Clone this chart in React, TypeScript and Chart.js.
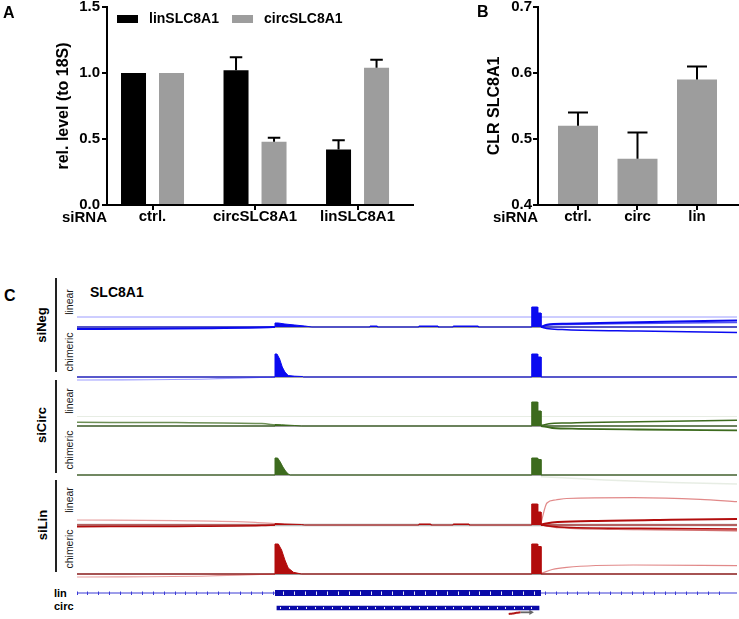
import React, { useEffect, useRef } from 'react';
import { Chart, registerables } from 'chart.js';

Chart.register(...registerables);

const FONT = "'Liberation Sans', Arial, Helvetica, sans-serif";
Chart.defaults.font.family = FONT;
Chart.defaults.color = '#000';

type P = [number, number];

// ---------------- Panel A: qPCR levels ----------------
const siRnaGroupsA = ['ctrl.', 'circSLC8A1', 'linSLC8A1'];
const seriesNamesA = ['linSLC8A1', 'circSLC8A1'];
const linLevelA = [1.0, 1.02, 0.42];
const linSdA = [0, 0.1, 0.07];
const circLevelA = [1.0, 0.48, 1.04];
const circSdA = [0, 0.03, 0.06];
const yTicksA = [0, 0.5, 1.0, 1.5];

// ---------------- Panel B: CLR ----------------
const siRnaGroupsB = ['ctrl.', 'circ', 'lin'];
const clrB = [0.52, 0.47, 0.59];
const clrSdB = [0.02, 0.04, 0.02];
const yTicksB = [0.4, 0.5, 0.6, 0.7];

// ---------------- Panel C: coverage tracks (genomic window 0..1000, coverage in reads) ----------------
const trackSpan: P[] = [[0, 0], [1000, 0]];

const negLinearCoverage: P[] = [[0, 0], [300, 0], [300, 4], [305, 4], [315, 3], [330, 2], [345, 1], [356, 0], [444, 0], [444, 1], [455, 1], [455, 0], [518, 0], [518, 1], [547, 1], [547, 0], [570, 0], [570, 1], [608, 1], [608, 0], [689, 0], [689, 20], [698, 20], [698, 14], [703, 14], [703, 0], [1000, 0]];
const negChimericCoverage: P[] = [[0, 0], [300, 0], [300, 23], [303, 23], [307, 18], [311, 10], [315, 5], [320, 1.5], [330, 0.8], [342, 0.5], [343, 0], [689, 0], [689, 23], [698, 23], [698, 20], [703, 20], [703, 0], [1000, 0]];
const circLinearCoverage: P[] = [[0, 0], [300, 0], [300, 1.5], [310, 1.2], [330, 0.5], [340, 0], [689, 0], [689, 24], [698, 24], [698, 15], [703, 15], [703, 0], [1000, 0]];
const circChimericCoverage: P[] = [[0, 0], [300, 0], [300, 17], [304, 17], [308, 13], [312, 8], [316, 4], [320, 1], [323, 0], [689, 0], [689, 17], [698, 17], [698, 15.5], [703, 15.5], [703, 0], [1000, 0]];
const linLinearCoverage: P[] = [[0, 0], [300, 0], [300, 1.5], [315, 1], [340, 0.5], [345, 0], [518, 0], [518, 1], [536, 1], [536, 0], [570, 0], [570, 1], [594, 1], [594, 0], [689, 0], [689, 21], [698, 21], [698, 13], [703, 13], [703, 0], [1000, 0]];
const linChimericCoverage: P[] = [[0, 0], [300, 0], [300, 30], [305, 30], [310, 24], [315, 14], [320, 6], [328, 1.7], [340, 0], [689, 0], [689, 30], [698, 30], [698, 27.5], [703, 27.5], [703, 0], [1000, 0]];

const negLinearJunctions: P[][] = [
  [[0, 10], [1000, 10]],
  [[0, -2], [100, -1.8], [200, -1.2], [290, -0.3], [300, 0]],
  [[703, 0], [712, 2.3], [742, 3.2], [850, 4.8], [1000, 6.6]],
  [[703, 0], [712, 1.8], [742, 2.6], [850, 3.6], [1000, 4.6]],
  [[703, 0], [715, -1.8], [742, -2.7], [850, -4], [1000, -5.4]],
];
const negChimericJunctions: P[][] = [
  [[0, -3], [200, -2], [300, 0]],
];
const circLinearJunctions: P[][] = [
  [[0, 9.5], [1000, 9.5]],
  [[0, 3.7], [150, 3.4], [280, 2.5], [300, 1]],
  [[703, 0.5], [715, 2.2], [742, 3], [850, 4.3], [1000, 5.7]],
  [[703, 0], [720, -2], [760, -2.8], [850, -3.5], [1000, -4.3]],
];
const circChimericJunctions: P[][] = [
  [[703, -1.7], [800, -5], [900, -7.5], [1000, -9]],
];
const linLinearJunctions: P[][] = [
  [[0, 5], [150, 4.3], [270, 2.7], [300, 1.3]],
  [[0, -1.7], [150, -1.4], [280, -0.6], [300, 0]],
  [[703, 2], [712, 22], [725, 25], [742, 26.5], [843, 27.3], [944, 25.7], [1000, 23.3]],
  [[703, 0.5], [720, 2.5], [780, 4], [900, 5.3], [1000, 6]],
  [[703, 0], [730, -2], [850, -3.3], [1000, -4]],
  [[703, 0], [730, -2.5], [850, -4.5], [1000, -5.7]],
];
const linChimericJunctions: P[][] = [
  [[703, 0.5], [720, 4.5], [742, 6.7], [843, 9], [1000, 8.3]],
  [[0, -3], [200, -2], [300, 0]],
];

// gene model
const geneSpan: P[] = [[0, 0], [1000, 0]];
const linExons: P[] = [[300, 0], [703, 0]];
const circExons: P[] = [[300, 0], [703, 0]];
const primerRed: P[] = [[656, -9], [662, -8.2], [668, -7.2], [674, -6.5]];
const primerGray: P[] = [[674, -6.5], [690, -6.5]];

// ---------------- plugins ----------------
const errorBarPlugin: any = {
  id: 'errorBars',
  afterDatasetsDraw(chart: any, _a: any, opts: any) {
    const sds: number[][] = opts.sd || [];
    const ctx = chart.ctx;
    const yScale = chart.scales.y;
    ctx.save();
    ctx.strokeStyle = '#000';
    ctx.lineWidth = 2;
    chart.data.datasets.forEach((ds: any, di: number) => {
      const e = sds[di];
      if (!e) return;
      const meta = chart.getDatasetMeta(di);
      meta.data.forEach((bar: any, i: number) => {
        if (!e[i]) return;
        const v = ds.data[i].y;
        const yTop = yScale.getPixelForValue(v + e[i]);
        const half = bar.width / 4;
        ctx.beginPath();
        ctx.moveTo(bar.x, bar.y);
        ctx.lineTo(bar.x, yTop);
        ctx.moveTo(bar.x - half, yTop);
        ctx.lineTo(bar.x + half, yTop);
        ctx.stroke();
      });
    });
    ctx.restore();
  },
};

const innerLegendPlugin: any = {
  id: 'innerLegend',
  afterDraw(chart: any, _a: any, opts: any) {
    if (!opts.display) return;
    const { ctx, chartArea } = chart;
    ctx.save();
    ctx.font = `bold 14px ${FONT}`;
    ctx.textBaseline = 'middle';
    let x = chartArea.left + opts.dx;
    const y = chartArea.top + opts.dy;
    chart.data.datasets.forEach((ds: any) => {
      ctx.fillStyle = ds.backgroundColor;
      ctx.fillRect(x, y - 4, 21, 8);
      x += 21 + 11;
      ctx.fillStyle = '#000';
      ctx.fillText(ds.label, x, y + 0.5);
      x += ctx.measureText(ds.label).width + 13;
    });
    ctx.restore();
  },
};

const rowTitlePlugin: any = {
  id: 'rowTitle',
  afterDraw(chart: any, _a: any, opts: any) {
    const { ctx, chartArea } = chart;
    ctx.save();
    ctx.font = `bold 15px ${FONT}`;
    ctx.fillStyle = '#000';
    ctx.textAlign = 'right';
    ctx.textBaseline = 'alphabetic';
    ctx.fillText(opts.text, chartArea.left, chartArea.bottom + opts.dy);
    ctx.restore();
  },
};

// ---------------- config builders ----------------
function barConfig(o: any): any {
  const { groups, series, yTicks, yTitle, xMin, xMax, catPct, barPct, axisWidth, titleCenter, tickPad, padRight, legend } = o;
  return {
    type: 'bar',
    data: {
      datasets: series.map((s: any) => ({
        label: s.label,
        data: s.values.map((v: number, i: number) => ({ x: i, y: v })),
        backgroundColor: s.color,
        borderWidth: 0,
        categoryPercentage: catPct,
        barPercentage: barPct,
        base: yTicks[0],
      })),
    },
    options: {
      animation: false,
      responsive: false,
      events: [],
      layout: { padding: { top: 7, right: padRight, left: 0, bottom: 0 } },
      plugins: {
        legend: { display: false },
        tooltip: { enabled: false },
        errorBars: { sd: series.map((s: any) => s.sd) },
        innerLegend: { display: legend, dx: 10, dy: 12 },
        rowTitle: { text: 'siRNA', dy: 17 },
      },
      scales: {
        x: {
          type: 'linear', min: xMin, max: xMax, offset: false,
          afterBuildTicks: (s: any) => { s.ticks = groups.map((_: string, i: number) => ({ value: i })); },
          afterFit: (s: any) => { s.height = 35; s.paddingLeft = 0; s.paddingRight = 0; },
          ticks: { autoSkip: false, maxRotation: 0, padding: -2, font: { size: 15, weight: 'bold' }, color: '#000', callback: (v: any) => groups[v] ?? '' },
          grid: { offset: false, drawOnChartArea: false, drawTicks: true, tickLength: 5, color: '#000', lineWidth: 2 },
          border: { display: true, color: '#000', width: 2 },
        },
        y: {
          type: 'linear', min: yTicks[0], max: yTicks[yTicks.length - 1],
          afterBuildTicks: (s: any) => { s.ticks = yTicks.map((v: number) => ({ value: v })); },
          afterFit: (s: any) => { s.width = axisWidth; s.paddingTop = 0; s.paddingBottom = 0; },
          ticks: { autoSkip: false, padding: tickPad, font: { size: 15, weight: 'bold' }, color: '#000', callback: (v: any) => Number(v).toFixed(1) },
          grid: { drawOnChartArea: false, drawTicks: true, tickLength: 5, color: '#000', lineWidth: 2 },
          border: { display: true, color: '#000', width: 2 },
          title: { display: true, text: yTitle, color: '#000', font: { size: 16, weight: 'bold' }, padding: { top: titleCenter - 9.6, bottom: 0 } },
        },
      },
    },
    plugins: [errorBarPlugin, innerLegendPlugin, rowTitlePlugin],
  };
}

const xy = (pts: P[]) => pts.map(([x, y]) => ({ x, y }));

function trackConfig(t: any): any {
  const datasets: any[] = [
    { data: xy(t.coverage), borderColor: t.color, backgroundColor: t.color, borderWidth: 1, fill: 'origin', pointRadius: 0, tension: 0 },
    ...t.junctions.map((pts: P[], i: number) => ({
      data: xy(pts), borderColor: t.junctionStyles[i].color, borderWidth: t.junctionStyles[i].width,
      fill: false, pointRadius: 0, cubicInterpolationMode: 'monotone',
    })),
    { data: xy(trackSpan), borderColor: t.baseColor, borderWidth: t.baseWidth, fill: false, pointRadius: 0 },
  ];
  return {
    type: 'line',
    data: { datasets },
    options: {
      animation: false, responsive: false, events: [],
      layout: { padding: 0 },
      plugins: { legend: { display: false }, tooltip: { enabled: false } },
      scales: {
        x: { type: 'linear', display: false, min: 0, max: 1000 },
        y: { type: 'linear', display: false, min: -10, max: 36 },
      },
    },
  };
}

function geneConfig(kind: 'lin' | 'circ'): any {
  const exons = kind === 'lin' ? linExons : circExons;
  const lo = exons[0][0];
  const hi = exons[exons.length - 1][0];
  const inBlock = (v: number) => v > lo && v < hi;
  const datasets: any[] = kind === 'lin'
    ? [
      { data: xy(linExons), borderColor: '#0a0aa8', borderWidth: 6, pointRadius: 0, clip: false },
      { data: xy(geneSpan), borderColor: '#3c3cd6', borderWidth: 1.2, pointRadius: 0, clip: false },
    ]
    : [
      { data: xy(circExons), borderColor: '#0a0aa8', borderWidth: 4.5, pointRadius: 0, clip: false },
      { data: xy(primerRed), borderColor: '#b01515', borderWidth: 2, pointRadius: 0, clip: false, cubicInterpolationMode: 'monotone' },
      {
        data: xy(primerGray), borderColor: '#666', borderWidth: 1.8, clip: false,
        pointStyle: 'triangle', rotation: 90, backgroundColor: '#666', pointBackgroundColor: '#666', pointBorderWidth: 0,
        pointRadius: (c: any) => (c.dataIndex === primerGray.length - 1 ? 3 : 0),
      },
    ];
  return {
    type: 'line',
    data: { datasets },
    options: {
      animation: false, responsive: false, events: [],
      layout: kind === 'lin' ? { padding: { top: 4.5, bottom: 4.5, left: 0, right: 0 } } : { padding: { top: 3, bottom: 10, left: 0, right: 0 } },
      plugins: { legend: { display: false }, tooltip: { enabled: false } },
      scales: {
        x: {
          type: 'linear', min: 0, max: 1000, display: true,
          afterFit: (s: any) => { s.height = 0; },
          ticks: { display: false, stepSize: kind === 'lin' ? 16.5 : 13.3 },
          grid: {
            drawOnChartArea: true, drawTicks: false, z: 1, lineWidth: 1,
            color: (c: any) => (inBlock(c.tick.value) ? 'rgba(255,255,255,0.9)' : kind === 'lin' ? '#3c3cd6' : 'rgba(0,0,0,0)'),
          },
          border: { display: false },
        },
        y: { type: 'linear', display: false, min: -1.5, max: 1.5 },
      },
    },
  };
}

// ---------------- components ----------------
function ChartBox({ left, top, width, height, build }: any) {
  const ref = useRef<HTMLCanvasElement>(null);
  useEffect(() => {
    const chart = new Chart(ref.current as HTMLCanvasElement, build());
    return () => chart.destroy();
  }, []);
  return <canvas ref={ref} width={width} height={height} style={{ position: 'absolute', left, top, width, height }} />;
}

function Txt({ x, y, size, weight = 'bold', color = '#000', children }: any) {
  return (
    <div style={{ position: 'absolute', left: x, top: y, font: `${weight} ${size}px/${size}px ${FONT}`, color, whiteSpace: 'nowrap' }}>
      {children}
    </div>
  );
}

function RotText({ cx, cy, size, weight = 'bold', color = '#000', children }: any) {
  return (
    <div style={{
      position: 'absolute', left: cx, top: cy, transform: 'translate(-50%,-50%) rotate(-90deg)',
      font: `${weight} ${size}px/${size}px ${FONT}`, color, whiteSpace: 'nowrap',
    }}>
      {children}
    </div>
  );
}

const BLUE = '#0a0af0';
const GREEN = '#3d6b1e';
const RED = '#b20d0d';

const tracks = [
  {
    baseline: 327, coverage: negLinearCoverage, color: BLUE, junctions: negLinearJunctions,
    junctionStyles: [
      { color: 'rgba(90,90,255,0.6)', width: 1 }, { color: BLUE, width: 2 }, { color: BLUE, width: 2 },
      { color: 'rgba(10,10,240,0.7)', width: 1.5 }, { color: BLUE, width: 1.5 },
    ],
    baseColor: '#7a7a7a', baseWidth: 1.5,
  },
  {
    baseline: 377, coverage: negChimericCoverage, color: BLUE, junctions: negChimericJunctions,
    junctionStyles: [{ color: 'rgba(60,60,255,0.5)', width: 1.2 }],
    baseColor: '#8a8a8a', baseWidth: 1.5,
  },
  {
    baseline: 426, coverage: circLinearCoverage, color: GREEN, junctions: circLinearJunctions,
    junctionStyles: [
      { color: 'rgba(61,107,30,0.12)', width: 1 }, { color: 'rgba(61,107,30,0.75)', width: 1.5 },
      { color: GREEN, width: 1.5 }, { color: GREEN, width: 1.8 },
    ],
    baseColor: '#7a7a7a', baseWidth: 1.5,
  },
  {
    baseline: 475, coverage: circChimericCoverage, color: GREEN, junctions: circChimericJunctions,
    junctionStyles: [{ color: 'rgba(61,107,30,0.12)', width: 1.5 }],
    baseColor: '#8a8a8a', baseWidth: 1.5,
  },
  {
    baseline: 525, coverage: linLinearCoverage, color: RED, junctions: linLinearJunctions,
    junctionStyles: [
      { color: 'rgba(200,40,40,0.45)', width: 1.2 }, { color: RED, width: 1.5 },
      { color: 'rgba(200,40,40,0.55)', width: 1.2 }, { color: RED, width: 2 },
      { color: RED, width: 1.5 }, { color: 'rgba(178,13,13,0.6)', width: 1.5 },
    ],
    baseColor: '#b5b5b5', baseWidth: 2.5,
  },
  {
    baseline: 574, coverage: linChimericCoverage, color: RED, junctions: linChimericJunctions,
    junctionStyles: [{ color: 'rgba(200,40,40,0.55)', width: 1.2 }, { color: 'rgba(200,40,40,0.45)', width: 1.2 }],
    baseColor: '#7a7a7a', baseWidth: 1.5,
  },
];

const groupLabels = [
  { text: 'siNeg', cx: 41, cy: 325, top: 278, height: 94 },
  { text: 'siCirc', cx: 41, cy: 425, top: 380, height: 93 },
  { text: 'siLin', cx: 42, cy: 525, top: 480, height: 92 },
];

export default function App() {
  return (
    <div style={{ position: 'absolute', left: 0, top: 0, width: 739, height: 619, background: '#fff', overflow: 'hidden' }}>
      <ChartBox
        left={0} top={0} width={420} height={240}
        build={() => barConfig({
          groups: siRnaGroupsA,
          series: [
            { label: seriesNamesA[0], values: linLevelA, sd: linSdA, color: '#000' },
            { label: seriesNamesA[1], values: circLevelA, sd: circSdA, color: '#9d9d9d' },
          ],
          yTicks: yTicksA, yTitle: 'rel. level (to 18S)',
          xMin: -0.444, xMax: 2.541, catPct: 0.7415, barPct: 0.658,
          axisWidth: 107, titleCenter: 64, tickPad: 2, padRight: 7, legend: true,
        })}
      />
      <ChartBox
        left={430} top={0} width={309} height={240}
        build={() => barConfig({
          groups: siRnaGroupsB,
          series: [{ label: 'CLR SLC8A1', values: clrB, sd: clrSdB, color: '#9d9d9d' }],
          yTicks: yTicksB, yTitle: 'CLR SLC8A1',
          xMin: -0.672, xMax: 2.689, catPct: 1, barPct: 0.672,
          axisWidth: 108, titleCenter: 65, tickPad: 1, padRight: 1, legend: false,
        })}
      />
      <Txt x={3} y={4.5} size={16}>A</Txt>
      <Txt x={477} y={3.8} size={16}>B</Txt>
      <Txt x={4} y={287.5} size={16}>C</Txt>
      <Txt x={90} y={285} size={14}>SLC8A1</Txt>

      {groupLabels.map((g) => (
        <React.Fragment key={g.text}>
          <RotText cx={g.cx} cy={g.cy} size={13}>{g.text}</RotText>
          <div style={{ position: 'absolute', left: 55, top: g.top, width: 2, height: g.height, background: '#222' }} />
        </React.Fragment>
      ))}

      {tracks.map((t, i) => (
        <React.Fragment key={i}>
          <ChartBox left={77} top={t.baseline - 36} width={660} height={46} build={() => trackConfig(t)} />
          <RotText cx={69} cy={t.baseline - 25} size={10.5} weight="normal" color="#1a1a1a">
            {i % 2 === 0 ? 'linear' : 'chimeric'}
          </RotText>
        </React.Fragment>
      ))}

      <ChartBox left={77} top={587} width={660} height={12} build={() => geneConfig('lin')} />
      <ChartBox left={77} top={603} width={660} height={16} build={() => geneConfig('circ')} />
      <Txt x={54} y={587.7} size={11}>lin</Txt>
      <Txt x={54} y={600.7} size={11}>circ</Txt>
    </div>
  );
}
